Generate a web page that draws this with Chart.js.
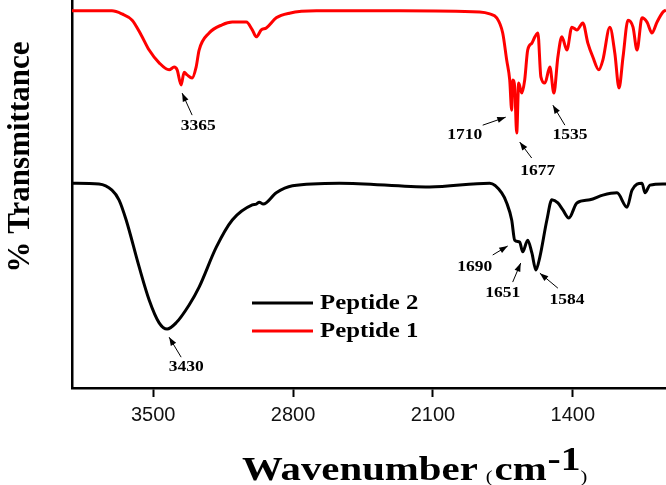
<!DOCTYPE html>
<html>
<head>
<meta charset="utf-8">
<script src="https://cdn.jsdelivr.net/npm/chart.js@4"></script>
<style>
  html, body { margin: 0; padding: 0; background: #fff; }
  #wrap { width: 666px; height: 485px; }
</style>
</head>
<body>
<div id="wrap"><canvas id="ftirChart" width="666" height="485"></canvas></div>
<script>
// series (wavenumber cm-1, % transmittance, arbitrary offset)
const seriesLabels = ['Peptide 2', 'Peptide 1'];
const seriesColors = ['#000000', '#ff0000'];

const wavenumbers1 = [3906, 3706, 3656, 3605, 3560, 3520, 3470, 3420, 3395, 3380, 3360, 3345, 3330, 3305, 3285, 3270, 3220, 3155, 3104, 3034, 3004, 2984, 2959, 2934, 2884, 2818, 2683, 2568, 2267, 1866, 1816, 1781, 1751, 1731, 1716, 1706, 1701, 1691, 1681, 1671, 1656, 1641, 1626, 1605, 1590, 1575, 1560, 1540, 1515, 1495, 1475, 1455, 1430, 1405, 1380, 1350, 1325, 1300, 1270, 1250, 1215, 1190, 1169, 1149, 1124, 1099, 1079, 1054, 1029, 1004, 979, 949, 934];
const transmittance1 = [97.2, 97.2, 96.4, 94.8, 91.0, 87.1, 83.8, 82.0, 82.7, 82.0, 78.1, 81.4, 80.7, 79.9, 82.7, 87.1, 91.5, 93.6, 94.3, 94.3, 92.3, 90.5, 92.3, 92.8, 95.4, 96.6, 97.2, 97.2, 97.2, 96.9, 96.4, 95.4, 91.5, 84.5, 79.4, 71.6, 79.4, 77.6, 65.7, 78.6, 76.0, 79.4, 87.1, 88.9, 90.5, 91.5, 80.2, 78.6, 82.7, 76.0, 85.3, 90.5, 87.1, 93.0, 92.3, 94.1, 88.9, 85.3, 82.0, 84.5, 93.0, 86.3, 77.3, 85.3, 94.8, 93.0, 87.1, 95.4, 94.3, 91.5, 94.3, 96.9, 97.4];

const wavenumbers2 = [3906, 3771, 3706, 3671, 3635, 3570, 3520, 3470, 3430, 3385, 3320, 3270, 3184, 3104, 3004, 2984, 2969, 2949, 2884, 2803, 2568, 2117, 1816, 1756, 1731, 1706, 1691, 1666, 1651, 1626, 1605, 1585, 1565, 1530, 1505, 1475, 1450, 1420, 1380, 1315, 1250, 1179, 1129, 1104, 1054, 1039, 1014, 949, 934];
const transmittance2 = [52.8, 52.6, 51.0, 48.5, 43.3, 31.2, 22.7, 16.8, 15.2, 16.8, 21.4, 26.0, 36.3, 43.3, 47.2, 47.4, 47.9, 47.4, 50.3, 52.1, 52.8, 51.8, 52.8, 50.3, 47.7, 43.3, 38.1, 37.6, 35.1, 38.1, 34.8, 30.4, 33.8, 43.3, 48.5, 47.7, 45.9, 43.8, 47.7, 48.5, 49.7, 50.3, 46.6, 51.0, 52.8, 50.3, 52.3, 52.6, 52.6];

const tickValues = [3500, 2800, 2100, 1400];

// peak labels and where their arrows point (data coords)
const peakLabels = ['3365', '1710', '1677', '1535', '3430', '1690', '1651', '1584'];
const peakWn = [3355, 1736, 1666, 1500, 3420, 1726, 1661, 1565];
const peakT = [76.0, 69.8, 63.4, 72.9, 13.1, 36.6, 32.2, 29.6];

// pixel offsets of arrow tail and label centre from the tip
const peakOffsets = [
  [10, 22, 16, 33], [-23, 8, -41, 18], [12, 16, 18, 29], [12, 20, 17, 30],
  [12, 20, 17, 30], [-15, 9, -33, 21], [-8, 19, -18, 30], [18, 15, 27, 27]
];

function toPoints(xs, ys) {
  return xs.map((x, i) => ({ x: x, y: ys[i] }));
}

function stretchText(ctx, text, x, y, sx) {
  ctx.save();
  ctx.translate(x, y);
  ctx.scale(sx, 1);
  ctx.fillText(text, 0, 0);
  ctx.restore();
}

const decorPlugin = {
  id: 'decor',
  afterDraw(chart) {
    const ctx = chart.ctx;
    const xs = chart.scales.x;
    const ys = chart.scales.y;
    ctx.save();
    ctx.fillStyle = '#000';
    ctx.strokeStyle = '#000';

    // peak arrows + labels
    ctx.font = 'bold 14px "Liberation Serif", "Times New Roman", serif';
    ctx.textBaseline = 'middle';
    peakLabels.forEach((lab, i) => {
      const tx = xs.getPixelForValue(peakWn[i]);
      const ty = ys.getPixelForValue(peakT[i]);
      const o = peakOffsets[i];
      const bx = tx + o[0], by = ty + o[1];
      ctx.lineWidth = 1;
      ctx.beginPath();
      ctx.moveTo(bx, by);
      ctx.lineTo(tx, ty);
      ctx.stroke();
      const ang = Math.atan2(ty - by, tx - bx);
      ctx.beginPath();
      ctx.moveTo(tx, ty);
      ctx.lineTo(tx - 9 * Math.cos(ang - 0.35), ty - 9 * Math.sin(ang - 0.35));
      ctx.lineTo(tx - 9 * Math.cos(ang + 0.35), ty - 9 * Math.sin(ang + 0.35));
      ctx.closePath();
      ctx.fill();
      const w = ctx.measureText(lab).width * 1.25;
      ctx.textAlign = 'left';
      stretchText(ctx, lab, tx + o[2] - w / 2, ty + o[3], 1.25);
    });

    // legend
    ctx.font = 'bold 21px "Liberation Serif", "Times New Roman", serif';
    ctx.textBaseline = 'middle';
    seriesLabels.forEach((lab, i) => {
      const y = 303 + i * 28;
      ctx.strokeStyle = seriesColors[i];
      ctx.lineWidth = 3;
      ctx.beginPath();
      ctx.moveTo(252, y);
      ctx.lineTo(313, y);
      ctx.stroke();
      ctx.fillStyle = '#000';
      stretchText(ctx, lab, 320, y + 1, 1.18);
    });

    // y title
    ctx.save();
    ctx.translate(21, 157);
    ctx.rotate(-Math.PI / 2);
    ctx.font = 'bold 31px "Liberation Serif", "Times New Roman", serif';
    ctx.textAlign = 'center';
    ctx.textBaseline = 'middle';
    ctx.fillText('% Transmittance', 0, 0);
    ctx.restore();

    // x title with superscript
    const sx = 1.2;
    let x = 242;
    const base = 480;
    ctx.textAlign = 'left';
    ctx.textBaseline = 'alphabetic';
    const parts = [
      ['Wavenumber', 'bold 34px', 0, 8],
      ['(', '17px', 2, 2],
      ['cm', 'bold 34px', 0, 1],
      ['-1', 'bold 33px', -10, 0],
      [')', '17px', 2, 0]
    ];
    parts.forEach(p => {
      ctx.font = p[1] + ' "Liberation Serif", "Times New Roman", serif';
      stretchText(ctx, p[0], x, base + p[2], sx);
      x += ctx.measureText(p[0]).width * sx + p[3];
    });
    ctx.restore();
  }
};

const ctx = document.getElementById('ftirChart').getContext('2d');
const ftirChart = new Chart(ctx, {
  type: 'line',
  data: {
    datasets: [
      {
        label: seriesLabels[0],
        data: toPoints(wavenumbers2, transmittance2),
        borderColor: seriesColors[0],
        borderWidth: 3,
        pointRadius: 0,
        cubicInterpolationMode: 'monotone'
      },
      {
        label: seriesLabels[1],
        data: toPoints(wavenumbers1, transmittance1),
        borderColor: seriesColors[1],
        borderWidth: 3,
        pointRadius: 0,
        cubicInterpolationMode: 'monotone'
      }
    ]
  },
  options: {
    responsive: false,
    animation: false,
    devicePixelRatio: 1,
    layout: { padding: { left: 72, right: 0, top: 0, bottom: 52 } },
    plugins: {
      legend: { display: false },
      tooltip: { enabled: false }
    },
    scales: {
      x: {
        type: 'linear',
        reverse: true,
        min: 934,
        max: 3906,
        afterBuildTicks: (scale) => {
          scale.ticks = tickValues.map(v => ({ value: v }));
        },
        grid: {
          display: true,
          drawOnChartArea: false,
          drawTicks: true,
          tickLength: 9,
          tickWidth: 2,
          tickColor: '#000'
        },
        border: { display: true, color: '#000', width: 2.5 },
        ticks: {
          color: '#111',
          padding: 6,
          maxRotation: 0,
          autoSkip: false,
          callback: (v) => String(v),
          font: { family: '"Liberation Sans", Arial, sans-serif', size: 20 }
        }
      },
      y: {
        min: 0,
        max: 100,
        grid: { display: false, drawTicks: false },
        border: { display: true, color: '#000', width: 2.5 },
        ticks: { display: false }
      }
    }
  },
  plugins: [decorPlugin]
});
</script>
</body>
</html>
